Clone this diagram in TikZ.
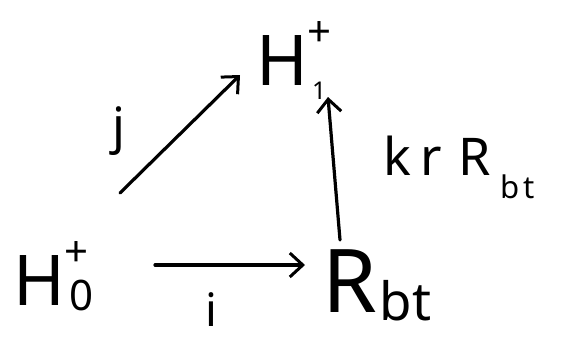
\documentclass[tikz,border=0pt]{standalone}
\usepackage{fontspec}
\setmainfont{Noto Sans}
\usetikzlibrary{arrows.meta,calc}
\newcommand{\myss}[4]{\rlap{\raisebox{0.55em}{\scalebox{0.6}{#1}}}\hspace{0.06em}\raisebox{#3}{\scalebox{#4}{#2}}}
\newcommand{\mysub}[2]{\raisebox{#1}{\scalebox{0.6}{#2}}}
\begin{document}
\begin{tikzpicture}[x=1pt,y=-1pt,
  obj/.style={inner sep=0pt,outer sep=0pt,anchor=base west,font=\fontsize{70}{70}\selectfont},
  lab/.style={inner sep=0pt,anchor=base west,font=\fontsize{50}{50}\selectfont},
  arr/.style={line width=3.2pt,line cap=round,-{Straight Barb[length=13pt,width=24pt,line width=3pt]}}]
\useasboundingbox[fill=white] (0,0) rectangle (577,338);
\node[obj] (H1) at (256,85) {H\myss{+}{1}{-0.2em}{0.35}\hphantom{\scalebox{0.6}{+}}};
\node[obj] (H0) at (13,305) {H\myss{+}{0}{-0.08em}{0.6}\hphantom{\scalebox{0.6}{+}}};
\node[obj,font=\fontsize{88}{88}\selectfont] (R) at (322,312) {R\hspace{3pt}\mysub{-0.1em}{bt}};
\coordinate (js) at ($(H0.base west)+(107,-112)$);
\coordinate (je) at ($(H1.base west)+(-16,-10)$);
\coordinate (is) at ($(H0.base west)+(142,-40)$);
\coordinate (ie) at ($(R.base west)+(-17,-47)$);
\coordinate (ks) at ($(R.base west)+(18,-72)$);
\coordinate (ke) at ($(H1.base west)+(72,12)$);
\draw[arr] (js) -- (je);
\draw[arr] (is) -- (ie);
\draw[arr] (ks) -- (ke);
\node[lab] (j) at (112,143) {j};
\node[lab,font=\fontsize{46}{46}\selectfont] (i) at (205,326) {i};
\node[lab,font=\fontsize{52}{52}\selectfont] (k) at (383,175) {k\hspace{10pt}r\hspace{16pt}R\hspace{10pt}\mysub{-0.45em}{b\hspace{6pt}t}};
\end{tikzpicture}
\end{document}
